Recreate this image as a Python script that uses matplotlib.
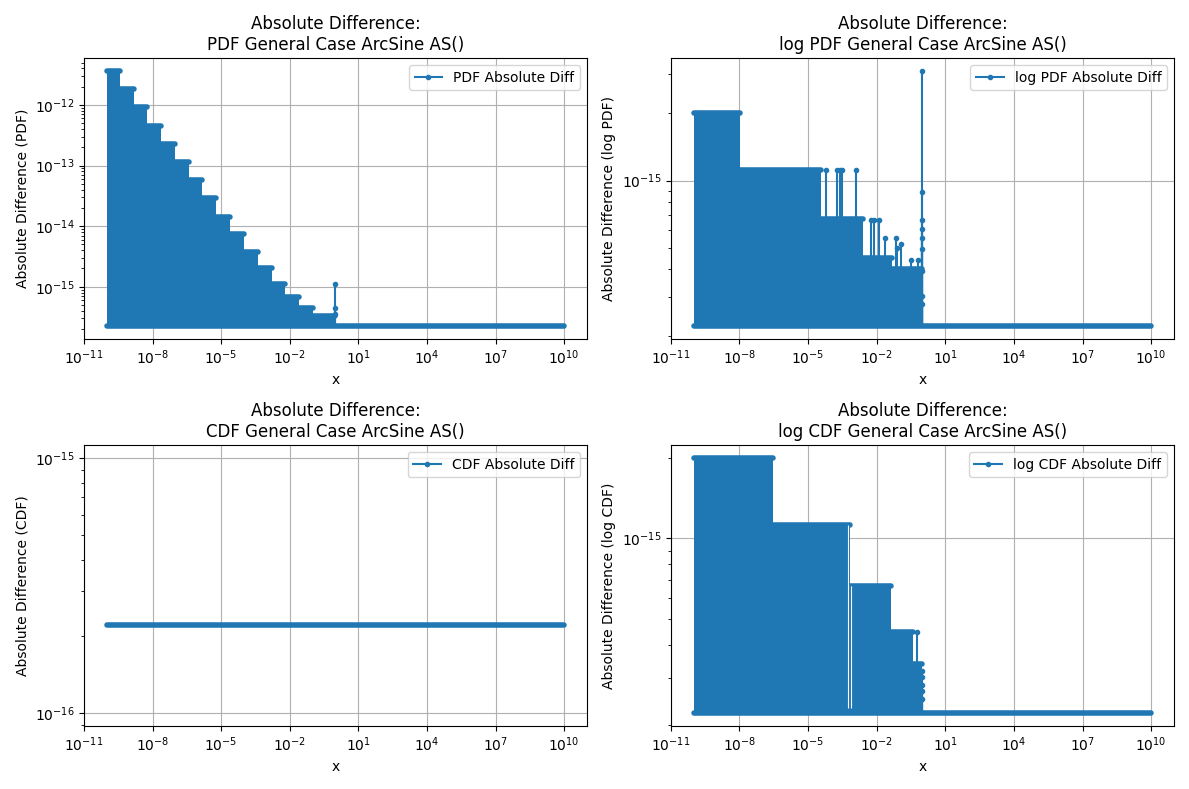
import matplotlib
matplotlib.use('Agg')
import matplotlib.pyplot as plt

EPS = 2.22e-16
X_MIN, X_MAX = 1e-10, 1e10
BLUE = '#1f77b4'

# PDF: plateau edges and levels, plus the spike near x=1
pdf_edges = [1e-10, 3.8e-10, 1.5e-9, 6.0e-9, 2.4e-8, 9.6e-8, 3.9e-7, 1.5e-6, 6.2e-6, 2.5e-5,
             9.8e-5, 3.9e-4, 1.6e-3, 6.3e-3, 2.5e-2, 0.1, 0.95]
pdf_levels = [3.64e-12, 1.82e-12, 9.1e-13, 4.55e-13, 2.28e-13, 1.14e-13, 5.7e-14, 2.86e-14,
              1.44e-14, 7.3e-15, 3.8e-15, 2.0e-15, 1.11e-15, 6.7e-16, 4.4e-16, 3.3e-16]
pdf_spike_x = [0.97, 0.98, 0.99]
pdf_spike_y = [3.5e-16, 4.5e-16, 1.13e-15]

# log PDF
lpdf_edges = [1e-10, 1.1e-8, 3.6e-5, 2.5e-3, 0.047, 0.97]
lpdf_levels = [2.0e-15, 1.12e-15, 6.7e-16, 4.5e-16, 4.0e-16]
lpdf_spike_x = [6.3e-5, 1.8e-4, 2.6e-4, 2.9e-4, 1.2e-3, 5.8e-3, 7.6e-3, 1.3e-2,
                0.024, 0.072, 0.078, 0.12, 0.32, 0.66,
                0.93, 0.94, 0.95, 0.96, 0.97, 0.975, 0.98, 0.985, 0.99]
lpdf_spike_y = [1.12e-15, 1.12e-15, 1.12e-15, 1.12e-15, 1.12e-15, 6.65e-16, 6.65e-16, 6.65e-16,
                5.53e-16, 5.53e-16, 5.0e-16, 5.21e-16, 4.41e-16, 4.41e-16,
                2.8e-16, 3.05e-16, 3.95e-16, 4.93e-16, 5.53e-16, 6.08e-16, 6.65e-16, 8.9e-16, 3.1e-15]

# CDF: flat at the baseline everywhere
cdf_edges = []
cdf_levels = []
cdf_spike_x = []
cdf_spike_y = []

# log CDF
lcdf_edges = [1e-10, 2.8e-7, 6.9e-4, 0.043, 0.376, 0.98]
lcdf_levels = [2.0e-15, 1.12e-15, 6.66e-16, 4.47e-16, 3.4e-16]
lcdf_spike_x = [0.56, 0.985, 0.988, 0.99, 0.993, 0.995]
lcdf_spike_y = [4.47e-16, 3.2e-16, 3.04e-16, 2.84e-16, 2.69e-16, 2.51e-16]
lcdf_gap_x = [5.7e-4, 7.9e-4]
lcdf_gap_top = [1.12e-15, 6.66e-16]


def draw(ax, edges, levels, spike_x, spike_y, label, ylabel, title):
    if levels:
        ax.fill_between(edges, EPS, levels + levels[-1:], step='post',
                        color=BLUE, lw=0, zorder=2)
        tops = ax.hlines(levels, edges[:-1], edges[1:], color=BLUE, lw=4, zorder=2)
        tops.set_capstyle('round')
    base = ax.hlines(EPS, X_MIN, X_MAX, color=BLUE, lw=4, zorder=2)
    base.set_capstyle('round')
    if spike_x:
        ax.vlines(spike_x, EPS, spike_y, color=BLUE, lw=1.5, zorder=2)
        ax.plot(spike_x, spike_y, '.', color=BLUE, zorder=2)
    ax.plot([], [], '.-', color=BLUE, label=label)
    ax.set_xscale('log')
    ax.set_yscale('log')
    ax.set_xlabel('x')
    ax.set_ylabel(ylabel)
    ax.set_title(title)
    ax.grid(True)
    ax.legend(loc='upper right')


fig, axes = plt.subplots(2, 2, figsize=(11.89, 7.89), dpi=100)

draw(axes[0, 0], pdf_edges, pdf_levels, pdf_spike_x, pdf_spike_y,
     'PDF Absolute Diff', 'Absolute Difference (PDF)',
     'Absolute Difference:\nPDF General Case ArcSine AS()')
draw(axes[0, 1], lpdf_edges, lpdf_levels, lpdf_spike_x, lpdf_spike_y,
     'log PDF Absolute Diff', 'Absolute Difference (log PDF)',
     'Absolute Difference:\nlog PDF General Case ArcSine AS()')
draw(axes[1, 0], cdf_edges, cdf_levels, cdf_spike_x, cdf_spike_y,
     'CDF Absolute Diff', 'Absolute Difference (CDF)',
     'Absolute Difference:\nCDF General Case ArcSine AS()')
draw(axes[1, 1], lcdf_edges, lcdf_levels, lcdf_spike_x, lcdf_spike_y,
     'log CDF Absolute Diff', 'Absolute Difference (log CDF)',
     'Absolute Difference:\nlog CDF General Case ArcSine AS()')
axes[1, 1].vlines(lcdf_gap_x, EPS * 1.05, lcdf_gap_top, color='white', lw=0.8, zorder=2.5)

fig.tight_layout()
fig.savefig('out.png')
